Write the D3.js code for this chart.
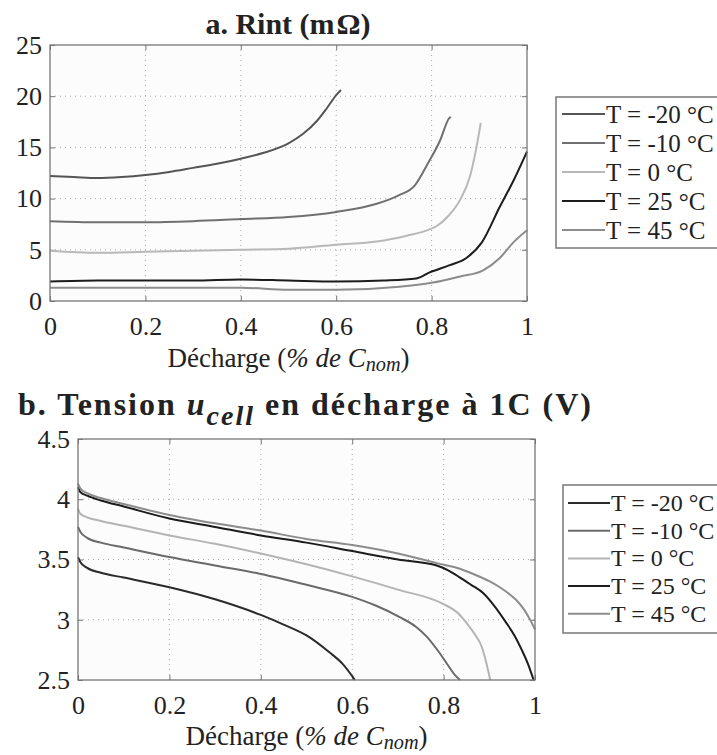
<!DOCTYPE html>
<html><head><meta charset="utf-8">
<script src="https://cdn.jsdelivr.net/npm/d3@7"></script>
<style>
body{margin:0;background:#fff}
text{font-family:"Liberation Serif","Times New Roman",serif;fill:#222}
</style>
</head><body>
<svg id="c" width="717" height="755"></svg>
<script>
// ---------- tick labels / categories ----------
const xTicks = [0, 0.2, 0.4, 0.6, 0.8, 1];
const xTickLabels = ["0", "0.2", "0.4", "0.6", "0.8", "1"];
const rintTicks = [0, 5, 10, 15, 20, 25];
const rintTickLabels = ["0", "5", "10", "15", "20", "25"];
const voltTicks = [2.5, 3, 3.5, 4, 4.5];
const voltTickLabels = ["2.5", "3", "3.5", "4", "4.5"];
const seriesNames = ["T = -20 °C", "T = -10 °C", "T = 0 °C", "T = 25 °C", "T = 45 °C"];

// ---------- a. Rint (mΩ) ----------
const rintX_m20 = [0, 0.05, 0.1, 0.15, 0.2, 0.25, 0.3, 0.35, 0.4, 0.45, 0.5, 0.53, 0.56, 0.58, 0.6, 0.61];
const rintY_m20 = [12.2, 12.1, 12.0, 12.1, 12.3, 12.6, 13.0, 13.4, 13.9, 14.5, 15.4, 16.3, 17.6, 18.8, 20.1, 20.6];
const rintX_m10 = [0, 0.1, 0.2, 0.3, 0.4, 0.5, 0.6, 0.685, 0.73, 0.765, 0.793, 0.818, 0.836, 0.84];
const rintY_m10 = [7.8, 7.7, 7.7, 7.8, 8.0, 8.2, 8.7, 9.5, 10.3, 11.3, 13.5, 15.7, 17.8, 18.0];
const rintX_0 = [0, 0.1, 0.2, 0.3, 0.4, 0.5, 0.6, 0.685, 0.75, 0.79, 0.81, 0.835, 0.86, 0.88, 0.894, 0.903];
const rintY_0 = [4.9, 4.7, 4.8, 4.9, 5.0, 5.1, 5.5, 5.8, 6.4, 6.9, 7.3, 8.3, 9.9, 12.1, 15.0, 17.4];
const rintX_25 = [0, 0.1, 0.2, 0.3, 0.4, 0.5, 0.6, 0.7, 0.768, 0.796, 0.838, 0.873, 0.905, 0.943, 0.971, 1.0];
const rintY_25 = [1.9, 2.0, 2.0, 2.0, 2.1, 2.0, 1.9, 2.0, 2.2, 2.8, 3.5, 4.2, 5.7, 9.2, 11.7, 14.6];
const rintX_45 = [0, 0.1, 0.2, 0.3, 0.4, 0.5, 0.6, 0.733, 0.803, 0.86, 0.908, 0.943, 0.971, 1.0];
const rintY_45 = [1.3, 1.3, 1.3, 1.3, 1.3, 1.1, 1.1, 1.4, 1.8, 2.4, 3.0, 4.2, 5.7, 6.9];

// ---------- b. Tension u_cell (V) ----------
const voltX_m20 = [0, 0.005, 0.02, 0.05, 0.1, 0.2, 0.3, 0.4, 0.45, 0.5, 0.55, 0.58, 0.606];
const voltY_m20 = [3.52, 3.48, 3.43, 3.39, 3.35, 3.27, 3.17, 3.04, 2.96, 2.87, 2.73, 2.63, 2.5];
const voltX_m10 = [0, 0.005, 0.02, 0.05, 0.1, 0.2, 0.3, 0.4, 0.5, 0.6, 0.65, 0.705, 0.74, 0.763, 0.792, 0.81, 0.825, 0.836];
const voltY_m10 = [3.77, 3.73, 3.68, 3.64, 3.60, 3.52, 3.45, 3.38, 3.29, 3.19, 3.12, 3.02, 2.94, 2.86, 2.72, 2.62, 2.54, 2.5];
const voltX_0 = [0, 0.005, 0.02, 0.05, 0.1, 0.2, 0.3, 0.4, 0.5, 0.6, 0.7, 0.8, 0.83, 0.851, 0.87, 0.883, 0.893, 0.902];
const voltY_0 = [3.92, 3.88, 3.85, 3.82, 3.78, 3.70, 3.63, 3.55, 3.46, 3.36, 3.25, 3.13, 3.06, 2.97, 2.87, 2.78, 2.65, 2.5];
const voltX_25 = [0, 0.005, 0.02, 0.05, 0.1, 0.2, 0.3, 0.4, 0.5, 0.6, 0.7, 0.785, 0.81, 0.836, 0.86, 0.887, 0.91, 0.938, 0.955, 0.971, 0.985, 0.997];
const voltY_25 = [4.10, 4.06, 4.03, 3.99, 3.94, 3.84, 3.77, 3.70, 3.64, 3.57, 3.50, 3.45, 3.41, 3.35, 3.29, 3.22, 3.12, 2.97, 2.87, 2.75, 2.63, 2.5];
const voltX_45 = [0, 0.005, 0.02, 0.05, 0.1, 0.2, 0.3, 0.4, 0.5, 0.6, 0.7, 0.785, 0.83, 0.865, 0.9, 0.923, 0.945, 0.96, 0.975, 0.985, 0.995, 1.0];
const voltY_45 = [4.13, 4.09, 4.05, 4.01, 3.96, 3.87, 3.80, 3.74, 3.67, 3.62, 3.55, 3.47, 3.43, 3.38, 3.32, 3.27, 3.21, 3.16, 3.09, 3.03, 2.96, 2.92];

// ---------- styles ----------
const rintColors = ["#555", "#707070", "#b8b8b8", "#1c1c1c", "#8c8c8c"];
const voltColors = ["#2a2a2a", "#6a6a6a", "#b4b4b4", "#1c1c1c", "#8c8c8c"];

const zip = (xs, ys) => xs.map((x, i) => [x, ys[i]]);
const rintSeries = [zip(rintX_m20, rintY_m20), zip(rintX_m10, rintY_m10), zip(rintX_0, rintY_0), zip(rintX_25, rintY_25), zip(rintX_45, rintY_45)];
const voltSeries = [zip(voltX_m20, voltY_m20), zip(voltX_m10, voltY_m10), zip(voltX_0, voltY_0), zip(voltX_25, voltY_25), zip(voltX_45, voltY_45)];

const svg = d3.select("#c");

function panel(cfg) {
  const x = d3.scaleLinear().domain([0, 1]).range([cfg.left, cfg.right]);
  const y = d3.scaleLinear().domain(cfg.ydom).range([cfg.bottom, cfg.top]);
  const g = svg.append("g");
  g.append("rect").attr("x", cfg.left).attr("y", cfg.top)
    .attr("width", cfg.right - cfg.left).attr("height", cfg.bottom - cfg.top).attr("fill", "#fcfcfc");
  // grid
  g.selectAll(".gx").data(xTicks.slice(1, -1)).join("line")
    .attr("x1", d => x(d)).attr("x2", d => x(d)).attr("y1", cfg.top).attr("y2", cfg.bottom)
    .attr("stroke", "#aaa").attr("stroke-width", 1).attr("stroke-dasharray", "1,4");
  g.selectAll(".gy").data(cfg.yticks.slice(1, -1)).join("line")
    .attr("y1", d => y(d)).attr("y2", d => y(d)).attr("x1", cfg.left).attr("x2", cfg.right)
    .attr("stroke", "#aaa").attr("stroke-width", 1).attr("stroke-dasharray", "1,4");
  // axes (ticks inward, mirrored on top/right)
  const ax = g.append("g").attr("transform", `translate(0,${cfg.bottom})`)
    .call(d3.axisBottom(x).tickValues(xTicks).tickFormat((d, i) => xTickLabels[i]).tickSize(-5).tickPadding(16));
  const ay = g.append("g").attr("transform", `translate(${cfg.left},0)`)
    .call(d3.axisLeft(y).tickValues(cfg.yticks).tickFormat((d, i) => cfg.ylabels[i]).tickSize(-5).tickPadding(8));
  const axT = g.append("g").attr("transform", `translate(0,${cfg.top})`)
    .call(d3.axisTop(x).tickValues(xTicks).tickFormat("").tickSize(-5));
  const ayR = g.append("g").attr("transform", `translate(${cfg.right},0)`)
    .call(d3.axisRight(y).tickValues(cfg.yticks).tickFormat("").tickSize(-5));
  [ax, ay, axT, ayR].forEach(a => {
    a.select(".domain").remove();
    a.selectAll("line").attr("stroke", "#777");
    a.selectAll("text").attr("font-size", cfg.tickFont).attr("fill", "#222");
  });
  // lines
  const line = d3.line().x(d => x(d[0])).y(d => y(d[1])).curve(d3.curveMonotoneX);
  g.selectAll(".s").data(cfg.series).join("path")
    .attr("d", line).attr("fill", "none")
    .attr("stroke", (d, i) => cfg.colors[i]).attr("stroke-width", 2);
  // frame
  g.append("rect").attr("x", cfg.left).attr("y", cfg.top)
    .attr("width", cfg.right - cfg.left).attr("height", cfg.bottom - cfg.top)
    .attr("fill", "none").attr("stroke", "#777").attr("stroke-width", 1.3);
  // x label
  const xl = g.append("text").attr("x", (cfg.left + cfg.right) / 2).attr("y", cfg.bottom + cfg.xlabOff)
    .attr("text-anchor", "middle").attr("font-size", cfg.labFont);
  xl.append("tspan").text("Décharge (");
  xl.append("tspan").attr("font-style", "italic").text("% de C");
  xl.append("tspan").attr("font-style", "italic").attr("font-size", cfg.labFont * 0.75).attr("dy", 4).text("nom");
  xl.append("tspan").attr("dy", -4).text(")");
  // legend
  const L = cfg.legend;
  g.append("rect").attr("x", L.x).attr("y", L.y).attr("width", 220).attr("height", L.h)
    .attr("fill", "#fff").attr("stroke", "#777").attr("stroke-width", 1.5);
  seriesNames.forEach((n, i) => {
    const yy = L.y0 + i * L.step;
    g.append("line").attr("x1", L.lx1).attr("x2", L.lx2).attr("y1", yy).attr("y2", yy)
      .attr("stroke", cfg.colors[i]).attr("stroke-width", 2);
    g.append("text").attr("x", L.lx2 + 1).attr("y", yy).attr("dominant-baseline", "central")
      .attr("font-size", L.font).text(n);
  });
  return g;
}

panel({
  left: 50, right: 527, top: 45, bottom: 301, ydom: [0, 25],
  yticks: rintTicks, ylabels: rintTickLabels, series: rintSeries, colors: rintColors,
  tickFont: 26, labFont: 27, xlabOff: 66,
  legend: {x: 556, y: 97, h: 151, y0: 114, step: 29, lx1: 562, lx2: 605, font: 25}
});
panel({
  left: 78, right: 535, top: 439, bottom: 680, ydom: [2.5, 4.5],
  yticks: voltTicks, ylabels: voltTickLabels, series: voltSeries, colors: voltColors,
  tickFont: 26, labFont: 27, xlabOff: 65,
  legend: {x: 563, y: 485, h: 148, y0: 503, step: 27.7, lx1: 568, lx2: 610, font: 24}
});

// titles
const ta = svg.append("text").attr("x", 288).attr("y", 34).attr("text-anchor", "middle")
  .attr("font-size", 30).attr("font-weight", "bold");
ta.append("tspan").text("a. Rint (m");
ta.append("tspan").attr("dx", 2).text("Ω)");

const tb = svg.append("text").attr("x", 18).attr("y", 415)
  .attr("font-size", 32).attr("font-weight", "bold").attr("letter-spacing", 2);
tb.append("tspan").text("b.  Tension ");
tb.append("tspan").attr("font-style", "italic").text("u");
tb.append("tspan").attr("font-style", "italic").attr("font-size", 28).attr("dy", 10).text("cell");
tb.append("tspan").attr("dy", -10).text(" en décharge à 1C (V)");
</script>
</body></html>
